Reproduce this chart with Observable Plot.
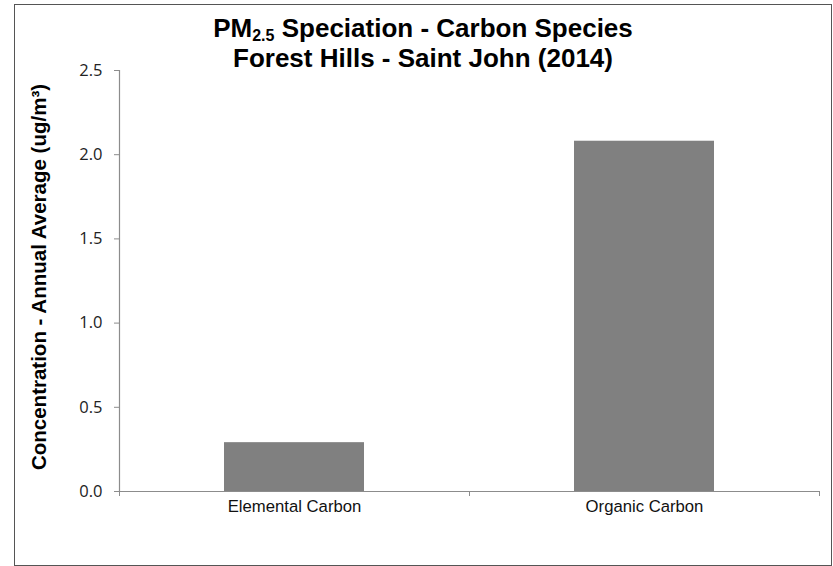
<!DOCTYPE html>
<html>
<head>
<meta charset="utf-8">
<script src="https://cdn.jsdelivr.net/npm/d3@7"></script>
<script src="https://cdn.jsdelivr.net/npm/@observablehq/plot@0.6"></script>
<style>
  html, body { margin: 0; padding: 0; background: #fff; }
  #wrap { position: relative; width: 833px; height: 566px; overflow: hidden; }
  #frame { position: absolute; left: 14px; top: 4px; width: 818px; height: 562px; box-sizing: border-box; border: 1.5px solid #555; pointer-events: none; }
  #title { position: absolute; left: 14px; width: 818px; top: 13px; text-align: center; font-family: "Liberation Sans", Arial, sans-serif; font-weight: bold; font-size: 26px; line-height: 30px; color: #000; }
  #title sub { font-size: 16px; line-height: 0; vertical-align: -4px; }
  #chart { position: absolute; left: 0; top: 0; }
</style>
</head>
<body>
<div id="wrap">
  <div id="chart"></div>
  <div id="title">PM<sub>2.5</sub> Speciation - Carbon Species<br>Forest Hills - Saint John (2014)</div>
  <div id="frame"></div>
</div>
<script>
const categories = ["Elemental Carbon", "Organic Carbon"];
const values = [0.29, 2.08];
const yTicks = [0, 0.5, 1.0, 1.5, 2.0, 2.5];
const yLabel = "Concentration - Annual Average (ug/m³)";

const data = categories.map((c, i) => ({category: c, value: values[i], i}));
const gap = 0.6; // Excel gap width 150% -> bar takes 40% of category

const chart = Plot.plot({
  width: 833,
  height: 566,
  marginLeft: 119,
  marginRight: 14,
  marginTop: 70,
  marginBottom: 75,
  style: {fontFamily: "'Liberation Sans', Arial, sans-serif", background: "transparent"},
  x: {domain: [0, categories.length], axis: null, label: null},
  y: {domain: [0, 2.5], axis: null, label: null},
  marks: [
    Plot.rectY(data, {x1: d => d.i + gap / 2, x2: d => d.i + 1 - gap / 2, y: "value", fill: "#808080"}),
    Plot.ruleY([0], {stroke: "#8c8c8c", strokeWidth: 1.2}),
    Plot.ruleX([0], {y1: 0, y2: 2.5, stroke: "#8c8c8c", strokeWidth: 1.2}),
    Plot.axisX({ticks: d3.range(categories.length + 1), tickFormat: () => "", tickSize: 5, stroke: "#8c8c8c", label: null}),
    Plot.axisY({ticks: yTicks, tickFormat: d3.format(".1f"), tickSize: 5, tickPadding: 12, stroke: "#8c8c8c", fill: "#222", fontSize: 16.5, fontFamily: "'Open Sans', sans-serif", label: null}),
    Plot.text(data, {x: d => d.i + 0.5, frameAnchor: "bottom", dy: 20, text: "category", fontSize: 16.7, fill: "#111"}),
    Plot.text([yLabel], {frameAnchor: "left", dx: -80, dy: -4, rotate: -90, textAnchor: "middle", text: d => d, fontSize: 20.5, fontWeight: "bold", fill: "#000"})
  ]
});
document.getElementById("chart").appendChild(chart);
</script>
</body>
</html>
